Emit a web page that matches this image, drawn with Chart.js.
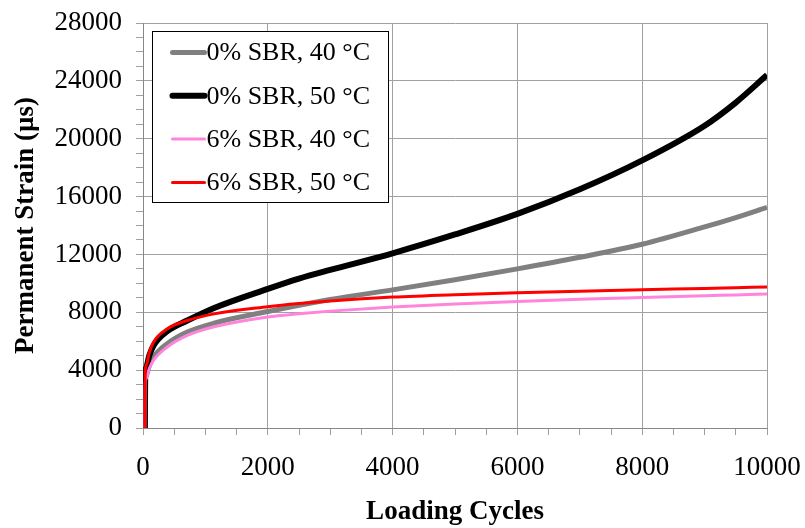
<!DOCTYPE html>
<html>
<head>
<meta charset="utf-8">
<script src="https://cdn.jsdelivr.net/npm/chart.js@4/dist/chart.umd.min.js"></script>
<style>
    html, body { margin: 0; padding: 0; background: #fff; }
    #wrap { width: 805px; height: 528px; }
</style>
</head>
<body>
<div id="wrap"><canvas id="line-chart"></canvas></div>
<script>
"use strict";

// Loading cycles, shared x values for all four curves
const cycles = [30, 35, 50, 100, 170, 390, 710, 1140, 2000, 2500, 3000, 4000, 5000, 6000, 7000, 8000, 9000, 9500, 10000];

// Permanent strain (µs)
const sbr0at40 = [0, 3200, 3600, 4300, 4910, 5830, 6630, 7250, 8050, 8480, 8880, 9550, 10250, 11000, 11800, 12700, 13900, 14550, 15250];
const sbr0at50 = [0, 3700, 4150, 5000, 5710, 6700, 7430, 8300, 9620, 10330, 10930, 12080, 13380, 14800, 16500, 18500, 20900, 22500, 24400];
const sbr6at40 = [0, 3000, 3400, 4100, 4690, 5600, 6400, 7000, 7680, 7900, 8080, 8370, 8580, 8750, 8900, 9030, 9150, 9200, 9260];
const sbr6at50 = [0, 3900, 4300, 5200, 5940, 6860, 7430, 7890, 8380, 8600, 8780, 9050, 9220, 9350, 9460, 9560, 9650, 9700, 9750];

// Series names and axis labels
const seriesNames = ["0% SBR, 40 °C", "0% SBR, 50 °C", "6% SBR, 40 °C", "6% SBR, 50 °C"];
const xTicks = [0, 2000, 4000, 6000, 8000, 10000];
const yTicks = [0, 4000, 8000, 12000, 16000, 20000, 24000, 28000];

const serif = "'Liberation Serif', 'Times New Roman', serif";
const gridGray = '#a0a0a0';

// Pairs cycles with strain values
function toPoints(values) {
    return cycles.map((c, i) => ({ x: c, y: values[i] }));
}

// Fixed scale size, and no extra room for the end labels (layout padding handles that)
function fixScale(size) {
    return scale => {
        if (scale.isHorizontal()) {
            scale.height = size;
        } else {
            scale.width = size;
        }
        scale.paddingLeft = 0;
        scale.paddingRight = 0;
        scale.paddingTop = 0;
        scale.paddingBottom = 0;
    };
}

// Legend drawn inside the plot area, in a box with black border
const innerLegend = {
    id: 'innerLegend',
    afterDatasetsDraw(chart) {
        const ctx = chart.ctx;
        const area = chart.chartArea;
        const left = Math.round(area.left + 9) + 0.5;
        const top = Math.round(area.top + 8) + 0.5;
        ctx.save();
        ctx.fillStyle = '#fff';
        ctx.fillRect(left, top, 236, 171);
        ctx.strokeStyle = '#000';
        ctx.lineWidth = 1;
        ctx.strokeRect(left, top, 236, 171);
        ctx.font = "26px " + serif;
        ctx.textBaseline = 'middle';
        ctx.fillStyle = '#000';
        chart.data.datasets.forEach((ds, i) => {
            const y = top + 21 + i * 43.3;
            ctx.beginPath();
            ctx.strokeStyle = ds.borderColor;
            ctx.lineWidth = ds.borderWidth;
            ctx.lineCap = 'round';
            ctx.moveTo(left + 20, y);
            ctx.lineTo(left + 52, y);
            ctx.stroke();
            ctx.fillText(ds.label, left + 54, y + 1);
        });
        ctx.restore();
    }
};

new Chart(document.getElementById('line-chart'), {
    type: 'line',
    data: {
        datasets: [
            { label: seriesNames[0], data: toPoints(sbr0at40), borderColor: '#808080', borderWidth: 5, order: 4 },
            { label: seriesNames[1], data: toPoints(sbr0at50), borderColor: '#000000', borderWidth: 6, order: 3 },
            { label: seriesNames[2], data: toPoints(sbr6at40), borderColor: '#ff85dc', borderWidth: 3, order: 2 },
            { label: seriesNames[3], data: toPoints(sbr6at50), borderColor: '#ff0000', borderWidth: 3, order: 1 }
        ]
    },
    options: {
        responsive: true,
        maintainAspectRatio: false,
        devicePixelRatio: 1,
        animation: false,
        layout: { padding: { left: 0, top: 23, right: 38, bottom: 0 } },
        elements: {
            point: { radius: 0 },
            line: { cubicInterpolationMode: 'monotone', fill: false }
        },
        plugins: {
            legend: { display: false },
            tooltip: { enabled: false }
        },
        scales: {
            x: {
                type: 'linear',
                min: 0,
                max: 10000,
                afterFit: fixScale(100),
                ticks: {
                    stepSize: 500,
                    autoSkip: false,
                    maxRotation: 0,
                    padding: 17,
                    color: '#000',
                    font: { family: serif, size: 27 },
                    callback: v => xTicks.includes(v) ? String(v) : ''
                },
                grid: {
                    color: c => (c.tick && c.tick.value % 2000 === 0) ? gridGray : 'rgba(0,0,0,0)',
                    tickColor: gridGray,
                    tickLength: 7,
                    lineWidth: 1
                },
                border: { color: '#888', width: 1 },
                title: {
                    display: true,
                    text: 'Loading Cycles',
                    color: '#000',
                    font: { family: serif, size: 27, weight: 'bold' },
                    padding: { top: 0, bottom: 0 }
                }
            },
            y: {
                min: 0,
                max: 28000,
                afterFit: fixScale(143),
                ticks: {
                    stepSize: 1000,
                    autoSkip: false,
                    padding: 14,
                    color: '#000',
                    font: { family: serif, size: 27 },
                    callback: v => yTicks.includes(v) ? String(v) : ''
                },
                grid: {
                    color: c => (c.tick && c.tick.value % 4000 === 0) ? gridGray : 'rgba(0,0,0,0)',
                    tickColor: gridGray,
                    tickLength: 7,
                    lineWidth: 1
                },
                border: { color: '#888', width: 1 },
                title: {
                    display: true,
                    text: 'Permanent Strain (µs)',
                    color: '#000',
                    font: { family: serif, size: 27, weight: 'bold' },
                    padding: { top: 10, bottom: 0 }
                }
            }
        }
    },
    plugins: [innerLegend]
});
</script>
</body>
</html>
